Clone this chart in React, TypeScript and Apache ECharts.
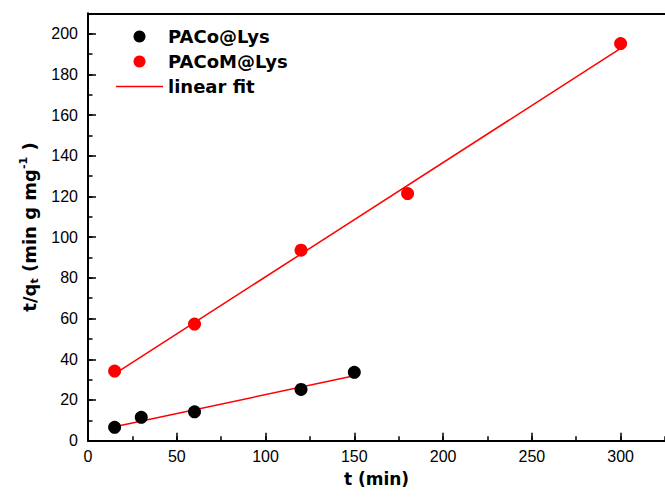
import React, { useEffect, useRef } from "react";
import * as echarts from "echarts";

// Data
const tPACo = [15, 30, 60, 120, 150];
const qPACo = [6.6, 11.5, 14.2, 25.2, 33.6];
const tPACoM = [15, 60, 120, 180, 300];
const qPACoM = [34.2, 57.3, 93.6, 121.4, 195.1];
const fitPACoX = [15, 150];
const fitPACoY = [6.9, 31.9];
const fitPACoMX = [15, 300];
const fitPACoMY = [32.8, 192.8];

const seriesNames = ["PACo@Lys", "PACoM@Lys", "linear fit"];

const pairs = (xs: number[], ys: number[]) => xs.map((x, i) => [x, ys[i]]);

const X_MIN = 0;
const X_MAX = 325;
const Y_MIN = 0;
const Y_MAX = 210;

export default function App() {
  const ref = useRef<HTMLDivElement>(null);
  useEffect(() => {
    if (!ref.current) return;
    const chart = echarts.init(ref.current, null, { renderer: "svg" });
    const titleFont = "DejaVu Sans";
    const tickFont = "Liberation Sans";
    const black = { color: "#000", width: 1.5 };
    chart.setOption({
      animation: false,
      backgroundColor: "#ffffff",
      grid: {
        left: 88,
        top: 13.3,
        width: 579,
        height: 427.4,
        show: false,
      },
      legend: {
        orient: "vertical",
        left: 116,
        top: 27.5,
        padding: 0,
        itemWidth: 47,
        itemHeight: 12,
        itemGap: 7,
        data: [
          { name: seriesNames[0] },
          { name: seriesNames[1] },
          { name: seriesNames[2], icon: "path://M0,0 L47,0 L47,1.5 L0,1.5 Z" },
        ],
        textStyle: {
          fontFamily: titleFont,
          fontWeight: "bold",
          fontSize: 18,
          color: "#000",
        },
      },
      xAxis: [
        {
          type: "value",
          min: X_MIN,
          max: X_MAX,
          interval: 50,
          name: "t (min)",
          nameLocation: "middle",
          nameGap: 30,
          nameTextStyle: {
            fontFamily: titleFont,
            fontWeight: "bold",
            fontSize: 17,
            color: "#000",
          },
          axisLine: { show: true, lineStyle: { color: "#000", width: 2 } },
          axisTick: { show: true, inside: true, length: 8, lineStyle: black },
          minorTick: { show: false },
          splitLine: { show: false },
          axisLabel: {
            margin: 8,
            showMaxLabel: false,
            fontFamily: tickFont,
            fontSize: 16,
            color: "#000",
          },
        },
        {
          type: "value",
          position: "top",
          min: X_MIN,
          max: X_MAX,
          interval: 50,
          axisLine: { show: true, onZero: false, lineStyle: { color: "#000", width: 2 } },
          axisTick: { show: false },
          axisLabel: { show: false },
          splitLine: { show: false },
        },
        {
          type: "value",
          position: "bottom",
          min: X_MIN,
          max: X_MAX,
          interval: 25,
          axisLine: { show: false, onZero: false },
          axisTick: { show: true, inside: true, length: 4.5, lineStyle: black },
          axisLabel: { show: false },
          splitLine: { show: false },
        },
      ],
      yAxis: [
        {
          type: "value",
          min: Y_MIN,
          max: Y_MAX,
          interval: 20,
          name: "{a|t/q}{sub|t}{a| (min g mg}{sup|-1}{a| )}",
          nameLocation: "middle",
          nameRotate: 90,
          nameGap: 44,
          nameTextStyle: {
            color: "#000",
            rich: {
              a: { fontFamily: titleFont, fontWeight: "bold", fontSize: 18, lineHeight: 22, color: "#000" },
              sub: { fontFamily: titleFont, fontWeight: "bold", fontSize: 11, lineHeight: 11, verticalAlign: "bottom", color: "#000" },
              sup: { fontFamily: titleFont, fontWeight: "bold", fontSize: 11, lineHeight: 11, verticalAlign: "top", color: "#000" },
            },
          },
          axisLine: { show: true, lineStyle: { color: "#000", width: 2 } },
          axisTick: { show: true, inside: true, length: 8, lineStyle: black },
          minorTick: { show: false },
          splitLine: { show: false },
          axisLabel: {
            margin: 10,
            showMaxLabel: false,
            fontFamily: tickFont,
            fontSize: 16,
            color: "#000",
          },
        },
        {
          type: "value",
          position: "left",
          min: Y_MIN,
          max: Y_MAX,
          interval: 10,
          axisLine: { show: false, onZero: false },
          axisTick: { show: true, inside: true, length: 4.5, lineStyle: black },
          axisLabel: { show: false },
          splitLine: { show: false },
        },
      ],
      series: [
        {
          name: "linear fit",
          type: "line",
          data: pairs(fitPACoX, fitPACoY),
          symbol: "none",
          showSymbol: false,
          lineStyle: { color: "#ff0000", width: 1.5 },
          itemStyle: { color: "#ff0000" },
          z: 3,
        },
        {
          name: "linear fit",
          type: "line",
          data: pairs(fitPACoMX, fitPACoMY),
          symbol: "none",
          showSymbol: false,
          lineStyle: { color: "#ff0000", width: 1.5 },
          itemStyle: { color: "#ff0000" },
          z: 3,
        },
        {
          name: "PACo@Lys",
          type: "scatter",
          data: pairs(tPACo, qPACo),
          symbol: "circle",
          symbolSize: 13,
          itemStyle: { color: "#000000", opacity: 1 },
          z: 4,
        },
        {
          name: "PACoM@Lys",
          type: "scatter",
          data: pairs(tPACoM, qPACoM),
          symbol: "circle",
          symbolSize: 13,
          itemStyle: { color: "#ff0000", opacity: 1 },
          z: 4,
        },
      ],
    });
    return () => chart.dispose();
  }, []);
  return (
    <div
      ref={ref}
      style={{ position: "absolute", left: 0, top: 0, width: 665, height: 501 }}
    />
  );
}
